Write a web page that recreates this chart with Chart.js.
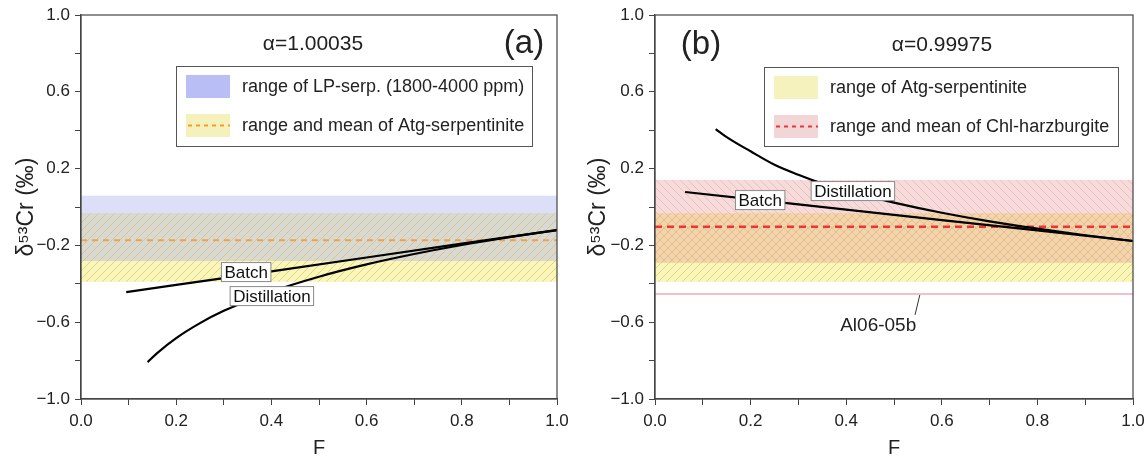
<!DOCTYPE html>
<html>
<head>
<meta charset="utf-8">
<script src="https://cdn.jsdelivr.net/npm/chart.js@4.4.0/dist/chart.umd.min.js"></script>
<style>
html, body { margin: 0; padding: 0; background: #fff; }
#wrap { position: relative; width: 1144px; height: 460px; }
.pane { position: absolute; top: 0; width: 572px; height: 460px; }
</style>
</head>
<body>
<div id="wrap">
  <div class="pane" style="left:0"><canvas id="ca" width="572" height="460"></canvas></div>
  <div class="pane" style="left:572px"><canvas id="cb" width="572" height="460"></canvas></div>
</div>
<script>
// x extent of the horizontal ranges
var bandF = [0, 1];

// ranges: [top, bottom] and [top, bottom, mean]
var lpSerp = [0.059, -0.281];
var atgSerp = [-0.033, -0.389, -0.173];
var chlHarz = [0.141, -0.29, -0.103];
var al0605b = [-0.453];

// (a) alpha = 1.00035
var aBatchF = [0.095, 0.2, 0.4, 0.6, 0.8, 1.0];
var aBatchD = [-0.443, -0.406, -0.335, -0.263, -0.191, -0.12];
var aDistF = [0.14, 0.16, 0.2, 0.25, 0.3, 0.4, 0.5, 0.6, 0.7, 0.8, 0.9, 1.0];
var aDistD = [-0.808, -0.761, -0.683, -0.605, -0.541, -0.441, -0.363, -0.299, -0.245, -0.198, -0.157, -0.12];

// (b) alpha = 0.99975
var bBatchF = [0.063, 0.2, 0.4, 0.6, 0.8, 1.0];
var bBatchD = [0.078, 0.041, -0.014, -0.068, -0.122, -0.177];
var bDistF = [0.127, 0.15, 0.2, 0.25, 0.3, 0.35, 0.4, 0.5, 0.6, 0.7, 0.8, 0.9, 1.0];
var bDistD = [0.406, 0.364, 0.29, 0.22, 0.168, 0.122, 0.085, 0.023, -0.03, -0.075, -0.113, -0.147, -0.177];

var FONT = '"Liberation Sans", Arial, sans-serif';
Chart.defaults.font.family = FONT;
Chart.defaults.color = '#222';

var pts = function(fs, ds){ return fs.map(function(f, i){ return {x: f, y: ds[i]}; }); };
var flat = function(v){ return bandF.map(function(f){ return {x: f, y: v}; }); };
var fmt = function(v){ return v.toFixed(1).replace('-', '\u2212'); };

// diagonal hatch on a tinted base
function hatch(ctx, base, stroke, back){
  var c = document.createElement('canvas');
  c.width = 8; c.height = 8;
  var g = c.getContext('2d');
  g.fillStyle = base; g.fillRect(0, 0, 8, 8);
  g.strokeStyle = stroke; g.lineWidth = 1;
  g.beginPath();
  if (back) {
    g.moveTo(0, 0); g.lineTo(8, 8);
    g.moveTo(-1, 7); g.lineTo(1, 9);
    g.moveTo(7, -1); g.lineTo(9, 1);
  } else {
    g.moveTo(0, 8); g.lineTo(8, 0);
    g.moveTo(-1, 1); g.lineTo(1, -1);
    g.moveTo(7, 9); g.lineTo(9, 7);
  }
  g.stroke();
  return ctx.createPattern(c, 'repeat');
}

function axes(yw){
  return {
    x: {
      type: 'linear', min: 0, max: 1,
      ticks: { stepSize: 0.1, autoSkip: false, maxRotation: 0, padding: 6, font: {size: 17},
               callback: function(v){ return Math.round(v * 10) % 2 === 0 ? fmt(v) : ''; } },
      grid: { drawOnChartArea: false, drawTicks: true, tickLength: 6, color: '#444', tickColor: '#444' },
      border: { display: true, color: '#444', width: 1.2 },
      title: { display: true, text: 'F', font: {size: 20}, padding: {top: 0, bottom: 0} },
      afterFit: function(s){ s.height = 61; s.paddingLeft = 0; s.paddingRight = 0; }
    },
    y: {
      type: 'linear', min: -1, max: 1,
      ticks: { stepSize: 0.2, autoSkip: false, padding: 5, font: {size: 17},
               callback: function(v){ return Math.round((v + 1) * 10) % 4 === 0 ? fmt(v) : ''; } },
      grid: { drawOnChartArea: false, drawTicks: true, tickLength: 6, color: '#444', tickColor: '#444' },
      border: { display: true, color: '#444', width: 1.2 },
      title: { display: true, text: '\u03b4\u2075\u00b3Cr (\u2030)', font: {size: 23}, padding: {top: 13, bottom: 4} },
      afterFit: function(s){ s.width = yw; s.paddingTop = 0; s.paddingBottom = 0; }
    }
  };
}

function band(v, fillTo, bg, order){
  return { data: flat(v), fill: fillTo ? '+1' : false, backgroundColor: bg || 'transparent',
           borderColor: 'transparent', borderWidth: 0, pointRadius: 0, order: order };
}
function curve(fs, ds, extra){
  var d = { data: pts(fs, ds), borderColor: '#000', borderWidth: 2.2, pointRadius: 0, fill: false,
            cubicInterpolationMode: 'monotone', order: 0 };
  for (var k in extra) d[k] = extra[k];
  return d;
}

function decor(p){
  return {
    id: 'decor',
    afterDatasetsDraw: function(chart){
      var ctx = chart.ctx, x = chart.scales.x, y = chart.scales.y;
      ctx.save();
      // leader line
      if (p.leader) {
        ctx.strokeStyle = '#333'; ctx.lineWidth = 1;
        ctx.beginPath();
        ctx.moveTo(x.getPixelForValue(p.leader[0]), y.getPixelForValue(p.leader[1]));
        ctx.lineTo(x.getPixelForValue(p.leader[2]), y.getPixelForValue(p.leader[3]));
        ctx.stroke();
      }
      ctx.textAlign = 'center'; ctx.textBaseline = 'middle';
      p.tags.forEach(function(t){
        var px = x.getPixelForValue(t[1]), py = y.getPixelForValue(t[2]);
        if (t[3]) {
          ctx.font = '19px ' + FONT;
          ctx.fillStyle = '#222'; ctx.fillText(t[0], px, py);
          return;
        }
        ctx.font = '17px ' + FONT;
        var w = ctx.measureText(t[0]).width + 6, h = 19;
        ctx.fillStyle = '#fff'; ctx.fillRect(px - w / 2, py - h / 2, w, h);
        ctx.strokeStyle = '#8a8a8a'; ctx.lineWidth = 1; ctx.strokeRect(px - w / 2, py - h / 2, w, h);
        ctx.fillStyle = '#111'; ctx.fillText(t[0], px, py + 1);
      });
      ctx.restore();
    },
    afterDraw: function(chart){
      var ctx = chart.ctx, a = chart.chartArea;
      ctx.save();
      ctx.strokeStyle = '#444'; ctx.lineWidth = 1.2;
      ctx.strokeRect(a.left, a.top, a.right - a.left, a.bottom - a.top);
      // titles
      ctx.fillStyle = '#222'; ctx.textAlign = 'center'; ctx.textBaseline = 'middle';
      ctx.font = '21px ' + FONT; ctx.fillText(p.alpha[0], p.alpha[1], p.alpha[2]);
      ctx.font = '33px ' + FONT; ctx.fillText(p.panel[0], p.panel[1], p.panel[2]);
      // legend box
      var L = p.legend;
      ctx.fillStyle = '#fff'; ctx.fillRect(L.x, L.y, L.w, L.h);
      ctx.strokeStyle = '#555'; ctx.lineWidth = 1; ctx.strokeRect(L.x + 0.5, L.y + 0.5, L.w, L.h);
      ctx.textAlign = 'left'; ctx.font = '18px ' + FONT;
      L.rows.forEach(function(r, i){
        var sy = L.y + 9 + i * 39;
        ctx.fillStyle = r.swatch; ctx.fillRect(L.x + 10, sy, 44, 23);
        if (r.dash) {
          ctx.strokeStyle = r.dash; ctx.lineWidth = 2; ctx.setLineDash([4, 4]);
          ctx.beginPath(); ctx.moveTo(L.x + 12, sy + 11.5); ctx.lineTo(L.x + 54, sy + 11.5); ctx.stroke();
          ctx.setLineDash([]);
        }
        ctx.fillStyle = '#222'; ctx.fillText(r.text, L.x + 66, sy + 12);
      });
      ctx.restore();
    }
  };
}

window.onload = function(){
  var ctxA = document.getElementById('ca').getContext('2d');
  var ctxB = document.getElementById('cb').getContext('2d');
  var blue = 'rgba(165,172,240,0.38)';
  var yelA = hatch(ctxA, 'rgba(240,232,110,0.45)', 'rgba(222,200,40,0.65)', false);
  var yelB = hatch(ctxB, 'rgba(240,232,110,0.45)', 'rgba(222,200,40,0.65)', false);
  var pink = hatch(ctxB, 'rgba(226,135,145,0.3)', 'rgba(240,160,110,0.45)', true);

  new Chart(ctxA, {
    type: 'line',
    data: { datasets: [
      band(lpSerp[0], true, blue, 5),
      band(lpSerp[1], false, null, 5),
      band(atgSerp[0], true, yelA, 6),
      band(atgSerp[1], false, null, 6),
      { data: flat(atgSerp[2]), borderColor: 'rgba(238,150,60,0.8)', borderWidth: 2, borderDash: [6, 5],
        pointRadius: 0, fill: false, order: 3 },
      curve(aBatchF, aBatchD, {cubicInterpolationMode: 'default', tension: 0}),
      curve(aDistF, aDistD, {})
    ]},
    options: {
      responsive: false, animation: false, events: [],
      layout: { padding: {left: 0, right: 15, top: 15, bottom: 0} },
      plugins: { legend: {display: false}, tooltip: {enabled: false} },
      scales: axes(81)
    },
    plugins: [decor({
      alpha: ['\u03b1=1.00035', 313, 44], panel: ['(a)', 524, 44],
      legend: { x: 176, y: 66, w: 356, h: 80, rows: [
        {swatch: '#b9bef5', text: 'range of LP-serp. (1800-4000 ppm)'},
        {swatch: '#f5f1bd', dash: '#f5a020', text: 'range and mean of Atg-serpentinite'}
      ]},
      tags: [['Batch', 0.347, -0.339], ['Distillation', 0.401, -0.464]]
    })]
  });

  new Chart(ctxB, {
    type: 'line',
    data: { datasets: [
      band(chlHarz[0], true, pink, 5),
      band(chlHarz[1], false, null, 5),
      band(atgSerp[0], true, yelB, 6),
      band(atgSerp[1], false, null, 6),
      { data: flat(chlHarz[2]), borderColor: '#f03434', borderWidth: 2.5, borderDash: [7, 5],
        pointRadius: 0, fill: false, order: 3 },
      { data: flat(al0605b[0]), borderColor: 'rgba(236,160,178,0.9)', borderWidth: 1.5,
        pointRadius: 0, fill: false, order: 4 },
      curve(bBatchF, bBatchD, {cubicInterpolationMode: 'default', tension: 0}),
      curve(bDistF, bDistD, {})
    ]},
    options: {
      responsive: false, animation: false, events: [],
      layout: { padding: {left: 0, right: 11, top: 15, bottom: 0} },
      plugins: { legend: {display: false}, tooltip: {enabled: false} },
      scales: axes(83)
    },
    plugins: [decor({
      alpha: ['\u03b1=0.99975', 370, 45], panel: ['(b)', 129, 45],
      legend: { x: 192, y: 67, w: 354, h: 79, rows: [
        {swatch: '#f5f2bd', text: 'range of Atg-serpentinite'},
        {swatch: '#f2d5d6', dash: '#f03434', text: 'range and mean of Chl-harzburgite'}
      ]},
      tags: [['Batch', 0.22, 0.036], ['Distillation', 0.414, 0.083], ['Al06-05b', 0.467, -0.618, true]],
      leader: [0.554, -0.458, 0.544, -0.562]
    })]
  });
};
</script>
</body>
</html>
